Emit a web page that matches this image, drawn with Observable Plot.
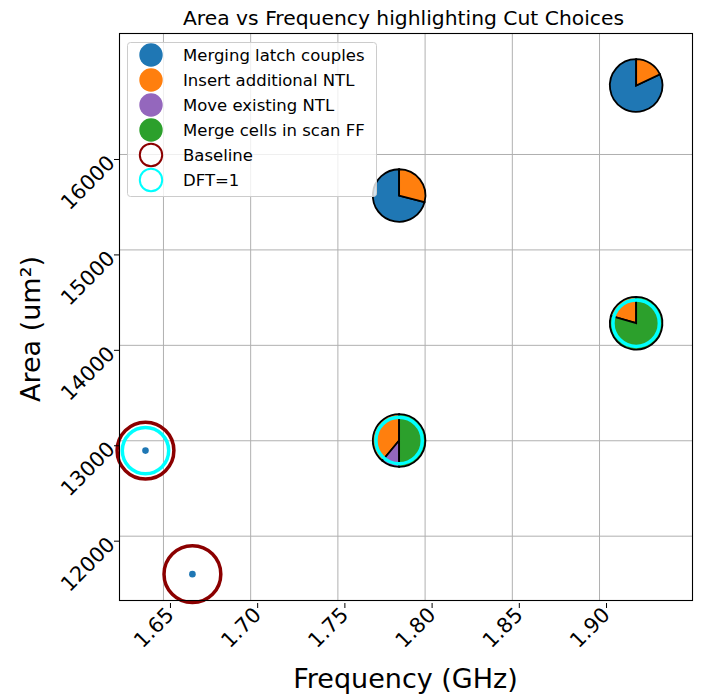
<!DOCTYPE html>
<html><head><meta charset="utf-8">
<script src="https://cdn.jsdelivr.net/npm/d3@7"></script>
<script src="https://cdn.jsdelivr.net/npm/@observablehq/plot@0.6"></script>
<style>body{margin:0;background:#fff}</style>
</head><body><div id="chart"></div>
<script>
// ---- data ----
const categories = ["Merging latch couples", "Insert additional NTL", "Move existing NTL", "Merge cells in scan FF"];
const catColors = ["#1f77b4", "#ff7f0e", "#9467bd", "#2ca02c"];
const pieFreq = [1.7851, 1.9210, 1.9210, 1.7851];
const pieArea = [15570, 16723, 14232, 13003];
const pieShares = [
  [0.71, 0.29, 0, 0],
  [0.82, 0.18, 0, 0],
  [0, 0.205, 0, 0.795],
  [0, 0.39, 0.11, 0.50]
];
const pieDft = [false, false, true, true];
const baseFreq = [1.6397, 1.6666];
const baseArea = [12897, 11602];
const baseDft = [true, false];
const xTicks = [1.65, 1.70, 1.75, 1.80, 1.85, 1.90];
const yTicks = [12000, 13000, 14000, 15000, 16000];
const legendLabels = ["Merging latch couples", "Insert additional NTL", "Move existing NTL", "Merge cells in scan FF", "Baseline", "DFT=1"];

// ---- derived tables ----
const wedges = [];
pieFreq.forEach((f, i) => {
  let cum = 0;
  pieShares[i].forEach((s, k) => {
    if (s > 0) wedges.push({freq: f, area: pieArea[i], start: cum, end: cum + s, cat: k});
    cum += s;
  });
});
const baseline = baseFreq.map((f, i) => ({freq: f, area: baseArea[i], dft: baseDft[i]}));
const dftPoints = [
  ...baseline.filter(d => d.dft),
  ...pieFreq.map((f, i) => ({freq: f, area: pieArea[i], dft: pieDft[i]})).filter(d => d.dft)
];

const wedgeMarks = wedges.map(w => {
  const a0 = -(Math.PI / 2 + w.start * 2 * Math.PI);
  const a1 = -(Math.PI / 2 + w.end * 2 * Math.PI);
  const sym = {draw(ctx, size) {
    const r = Math.sqrt(size / Math.PI);
    ctx.moveTo(0, 0);
    ctx.arc(0, 0, r, a0, a1, true);
    ctx.closePath();
  }};
  return Plot.dot([w], {x: "freq", y: "area", r: 26.3, symbol: sym, fill: catColors[w.cat],
    stroke: "black", strokeWidth: 1.8, strokeLinejoin: "miter"});
});

const W = 703, H = 697, ML = 119, MR = 11, MT = 33, MB = 97;
const plot = Plot.plot({
  width: W, height: H,
  marginLeft: ML, marginRight: MR, marginTop: MT, marginBottom: MB,
  style: {fontFamily: "DejaVu Sans", background: "white", color: "black"},
  x: {domain: [1.6248, 1.9533]},
  y: {domain: [11326, 17268]},
  marks: [
    Plot.gridX(xTicks, {stroke: "#b0b0b0", strokeOpacity: 1, strokeWidth: 1}),
    Plot.gridY(yTicks, {stroke: "#b0b0b0", strokeOpacity: 1, strokeWidth: 1}),
    ...wedgeMarks,
    Plot.dot(baseline, {x: "freq", y: "area", r: 28.4, stroke: "#8b0000", strokeWidth: 3.5, fill: "none"}),
    Plot.dot(dftPoints, {x: "freq", y: "area", r: 23.2, stroke: "cyan", strokeWidth: 3.5, fill: "none"}),
    Plot.dot(baseline, {x: "freq", y: "area", r: 3.3, fill: "#1f77b4"}),
    Plot.frame({stroke: "black", strokeWidth: 1.1}),
    Plot.axisX(xTicks, {tickFormat: d => d.toFixed(2), tickRotate: -45, tickSize: 5, tickPadding: 3,
      fontSize: 20.8, label: null, textAnchor: "end", dx: 7, dy: 3}),
    Plot.axisY(yTicks, {tickFormat: d => String(d), tickRotate: -45, tickSize: 5, tickPadding: 3,
      fontSize: 20.8, label: null, textAnchor: "end", dy: 5})
  ]
});
document.getElementById("chart").appendChild(plot);

// ---- title, axis labels, legend ----
const svg = d3.select(plot);
svg.append("text").attr("x", 403.5).attr("y", 25).attr("text-anchor", "middle")
  .attr("font-size", 20.3).attr("fill", "black").text("Area vs Frequency highlighting Cut Choices");
svg.append("text").attr("x", 405.5).attr("y", 688).attr("text-anchor", "middle")
  .attr("font-size", 27).attr("fill", "black").text("Frequency (GHz)");
svg.append("text").attr("transform", "translate(40,329) rotate(-90)").attr("text-anchor", "middle")
  .attr("font-size", 27).attr("fill", "black").text("Area (um²)");

const lg = svg.append("g");
lg.append("rect").attr("x", 127.5).attr("y", 42.5).attr("width", 249).attr("height", 154).attr("rx", 3)
  .attr("fill", "white").attr("fill-opacity", 0.8).attr("stroke", "#cccccc").attr("stroke-width", 1);
legendLabels.forEach((lab, i) => {
  const y = 55 + 25 * i;
  if (i < categories.length) {
    lg.append("circle").attr("cx", 151).attr("cy", y).attr("r", 11.7).attr("fill", catColors[i]);
  } else {
    lg.append("circle").attr("cx", 151).attr("cy", y).attr("r", 11.2).attr("fill", "none")
      .attr("stroke", i === 4 ? "#8b0000" : "cyan").attr("stroke-width", 2);
  }
  lg.append("text").attr("x", 183).attr("y", y + 6).attr("text-anchor", "start")
    .attr("font-size", 16.5).attr("fill", "black").text(lab);
});
</script></body></html>
